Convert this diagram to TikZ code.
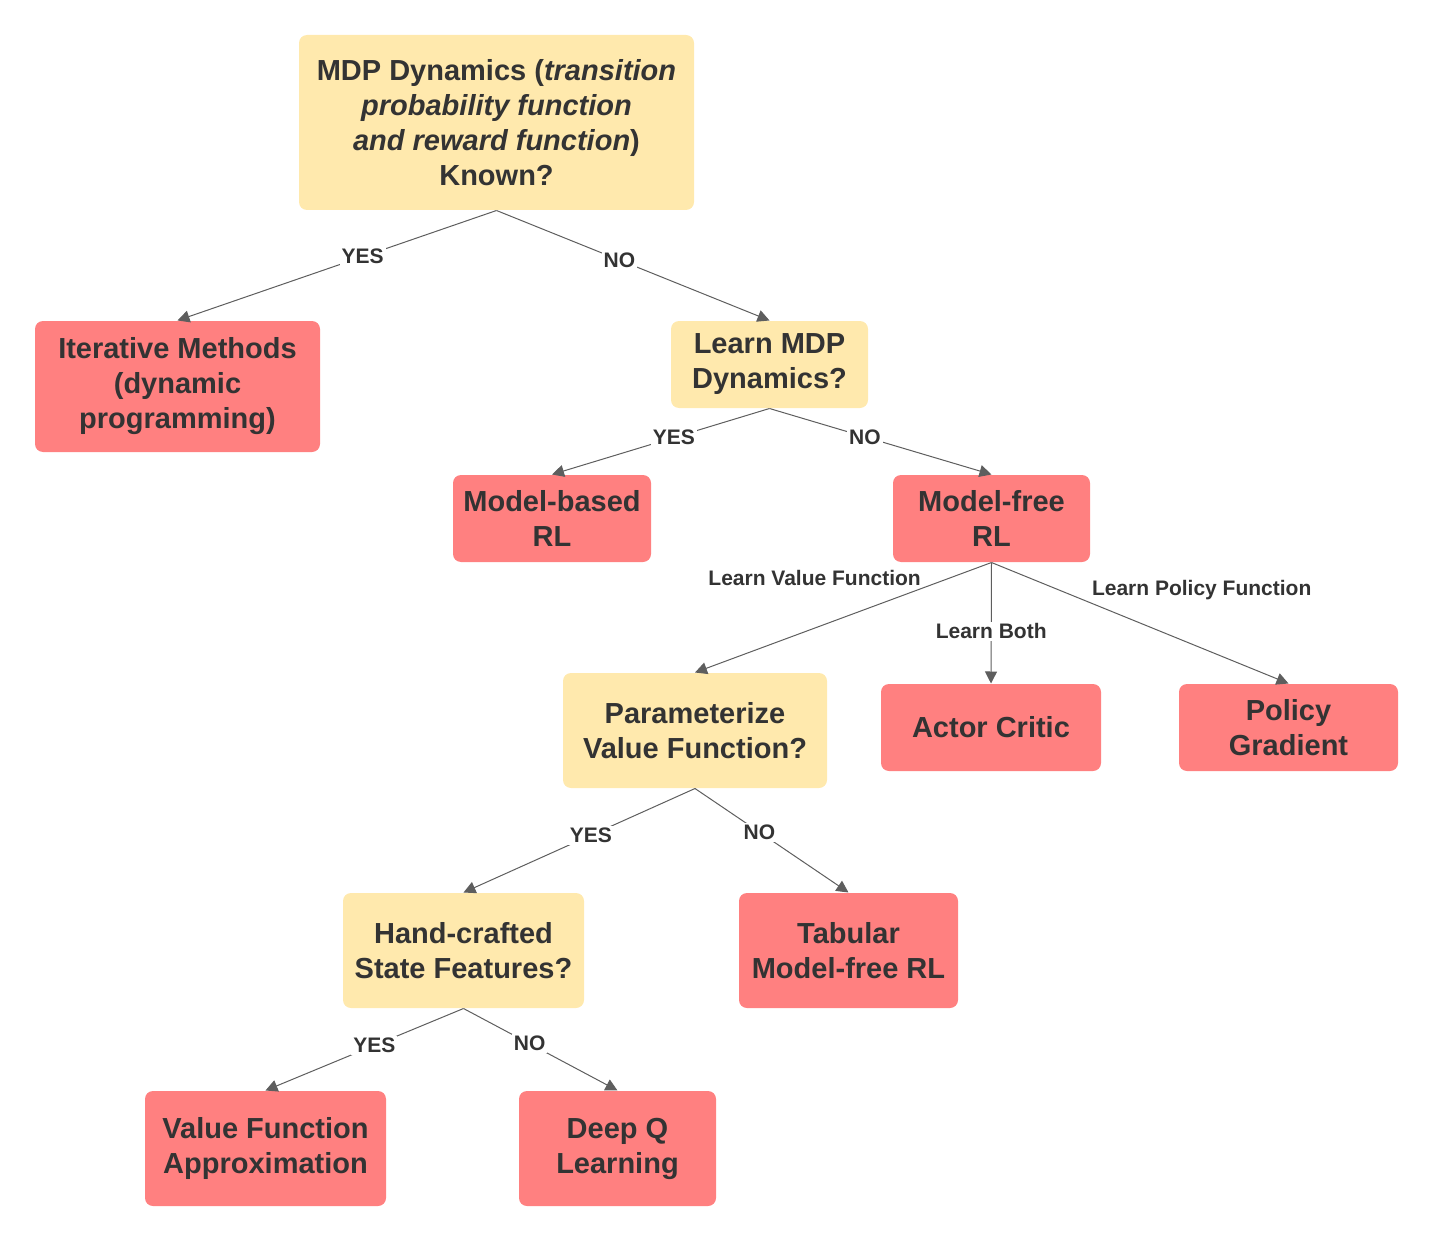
\documentclass[tikz,border=0pt]{standalone}
\usepackage{fontspec}
\setmainfont{Liberation Sans}
\usetikzlibrary{arrows.meta}

\definecolor{askyellow}{HTML}{FFE9AD}
\definecolor{leafred}{HTML}{FF8080}
\definecolor{inkgray}{HTML}{333333}
\definecolor{linegray}{HTML}{5E5E5E}

\def\boxfont{\bfseries\fontsize{29}{35}\selectfont}
\def\labfont{\bfseries\fontsize{21}{25}\selectfont}

\begin{document}
\begin{tikzpicture}[x=1pt,y=-1pt,->,>={Triangle[length=12pt,width=12pt]},draw=linegray,line width=1pt]
        \tikzstyle{block}=[rounded corners=8pt,inner sep=0pt,align=center,text=inkgray,font=\boxfont]
        \tikzstyle{question}=[block, fill=askyellow];
        \tikzstyle{answer}=[block, fill=leafred];
        \tikzstyle{choice}=[fill=white,inner sep=2pt,text=inkgray,font=\labfont];
        \useasboundingbox (0,0) rectangle (1449,1252);

        % Draw the question nodes
        \node[question, minimum width=395pt, minimum height=175pt] (MDP) at (496.5,122.5)
            {MDP Dynamics (\textit{transition}\\\textit{probability function}\\\textit{and reward function})\\Known?};
        \node[question, minimum width=197pt, minimum height=87pt] (LMDP) at (769.5,364.5) {Learn MDP\\Dynamics?};
        \node[question, minimum width=264pt, minimum height=115pt] (PVF) at (695,730.5) {Parameterize\\Value Function?};
        \node[question, minimum width=241pt, minimum height=115pt] (HSF) at (463.5,950.5) {Hand-crafted\\State Features?};

        % Draw the answer nodes
        \node[answer, minimum width=285pt, minimum height=131pt] (IM) at (177.5,386.5) {Iterative Methods\\(dynamic\\programming)};
        \node[answer, minimum width=198pt, minimum height=87pt] (MB) at (552,518.5) {Model-based\\RL};
        \node[answer, minimum width=197pt, minimum height=87pt] (MF) at (991.5,518.5) {Model-free\\RL};
        \node[answer, minimum width=220pt, minimum height=87pt] (AC) at (991,727.5) {Actor Critic};
        \node[answer, minimum width=219pt, minimum height=87pt] (PG) at (1288.5,727.5) {Policy\\Gradient};
        \node[answer, minimum width=219pt, minimum height=115pt] (TAB) at (848.5,950.5) {Tabular\\Model-free RL};
        \node[answer, minimum width=241pt, minimum height=115pt] (VFA) at (265.5,1148.5) {Value Function\\Approximation};
        \node[answer, minimum width=197pt, minimum height=115pt] (DQ) at (617.5,1148.5) {Deep Q\\Learning};

        % Connect every question with its answers
        \path (MDP.south) edge node[choice, pos=0.42] {YES} (IM.north);
        \path (MDP.south) edge node[choice, pos=0.45] {NO} (LMDP.north);
        \path (LMDP.south) edge node[choice, pos=0.44] {YES} (MB.north);
        \path (LMDP.south) edge node[choice, pos=0.43] {NO} (MF.north);
        \path (MF.south) edge node[choice, pos=0.23, anchor=south east, fill=none] {Learn Value Function} (PVF.north);
        \path (MF.south) edge node[choice, pos=0.57] {Learn Both} (AC.north);
        \path (MF.south) edge node[choice, pos=0.33, anchor=south west, fill=none] {Learn Policy Function} (PG.north);
        \path (PVF.south) edge node[choice, pos=0.45] {YES} (HSF.north);
        \path (PVF.south) edge node[choice, pos=0.42] {NO} (TAB.north);
        \path (HSF.south) edge node[choice, pos=0.45] {YES} (VFA.north);
        \path (HSF.south) edge node[choice, pos=0.43] {NO} (DQ.north);
\end{tikzpicture}
\end{document}
